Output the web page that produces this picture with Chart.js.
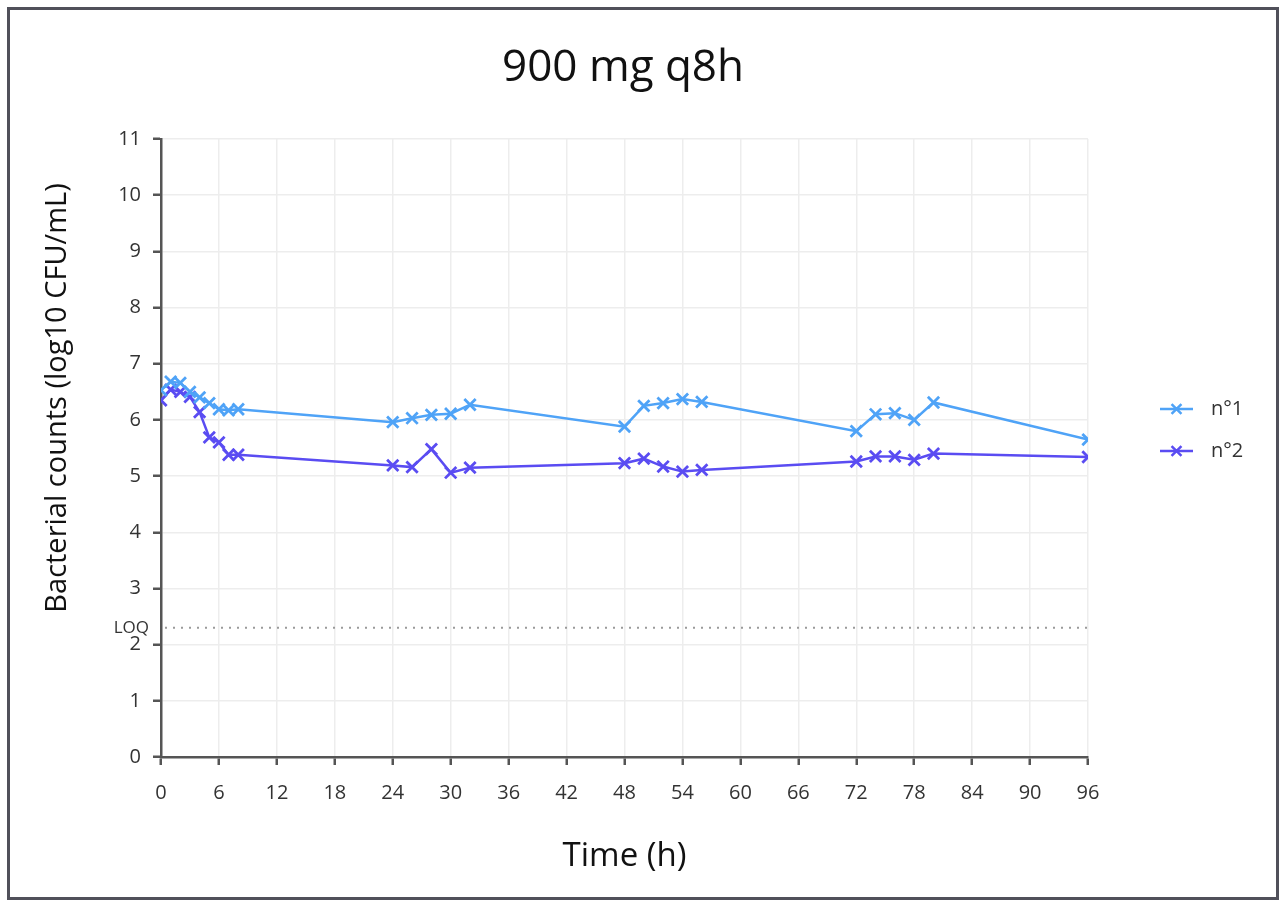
<!DOCTYPE html>
<html>
<head>
<meta charset="utf-8">
<script src="https://cdn.jsdelivr.net/npm/chart.js@4.4.1/dist/chart.umd.min.js"></script>
<style>
  html, body { margin: 0; padding: 0; background: #fff; }
  #wrap { width: 1281px; height: 900px; }
</style>
</head>
<body>
<div id="wrap"><canvas id="chart" width="1281" height="900"></canvas></div>
<script>
// Temps de prélèvement (h)
const times = [0, 1, 2, 3, 4, 5, 6, 7, 8, 24, 26, 28, 30, 32, 48, 50, 52, 54, 56, 72, 74, 76, 78, 80, 96];
// Comptages (log10 CFU/mL) par réplicat
const serie1 = [6.53, 6.68, 6.66, 6.50, 6.40, 6.30, 6.19, 6.17, 6.19, 5.96, 6.03, 6.09, 6.11, 6.27, 5.88, 6.25, 6.30, 6.37, 6.32, 5.80, 6.10, 6.12, 6.00, 6.31, 5.65];
const serie2 = [6.35, 6.54, 6.50, 6.41, 6.14, 5.69, 5.60, 5.38, 5.38, 5.19, 5.16, 5.48, 5.06, 5.15, 5.23, 5.31, 5.17, 5.08, 5.11, 5.26, 5.35, 5.35, 5.29, 5.40, 5.34];
const seriesLabels = ['n°1', 'n°2'];
const seriesColors = ['#4fa3f7', '#5a4cf2'];
const LOQ = 2.3;

const FONT = '"Open Sans", "Liberation Sans", sans-serif';

function toPoints(values) {
    return values.map((v, i) => ({ x: times[i], y: v }));
}

// Plugin pour le cadre, les titres, la ligne LOQ et la légende
const decorPlugin = {
    id: 'decor',
    beforeDatasetsDraw(chart) {
        const ctx = chart.ctx;
        const area = chart.chartArea;
        const yLoq = chart.scales.y.getPixelForValue(LOQ);
        ctx.save();
        ctx.strokeStyle = '#9a9a9a';
        ctx.lineWidth = 2;
        ctx.setLineDash([2, 6]);
        ctx.beginPath();
        ctx.moveTo(area.left + 4, yLoq);
        ctx.lineTo(area.right, yLoq);
        ctx.stroke();
        ctx.setLineDash([]);
        ctx.fillStyle = '#333';
        ctx.font = '17px ' + FONT;
        ctx.textAlign = 'right';
        ctx.textBaseline = 'middle';
        ctx.fillText('LOQ', area.left - 12, yLoq);
        ctx.restore();
    },
    afterDraw(chart) {
        const ctx = chart.ctx;
        ctx.save();
        // cadre
        ctx.strokeStyle = '#50505a';
        ctx.lineWidth = 3;
        ctx.strokeRect(8.5, 8.5, 1269, 890);
        // titre
        ctx.fillStyle = '#111';
        ctx.font = '44px ' + FONT;
        ctx.textAlign = 'center';
        ctx.textBaseline = 'middle';
        ctx.fillText('900 mg q8h', 623, 68);
        // titre de l'axe y (décalé vers le haut comme dans l'original)
        ctx.save();
        ctx.translate(58, 398);
        ctx.rotate(-Math.PI / 2);
        ctx.font = '29px ' + FONT;
        ctx.fillText('Bacterial counts (log10 CFU/mL)', 0, 0);
        ctx.restore();
        // légende
        const ys = [409, 451];
        chart.data.datasets.forEach((ds, i) => {
            ctx.strokeStyle = ds.borderColor;
            ctx.lineWidth = 2.5;
            ctx.beginPath();
            ctx.moveTo(1160, ys[i]);
            ctx.lineTo(1193, ys[i]);
            ctx.stroke();
            Chart.helpers.drawPoint(ctx, {
                pointStyle: 'crossRot', radius: 7, borderWidth: 2.5
            }, 1176.5, ys[i]);
            ctx.fillStyle = '#333';
            ctx.font = '20px ' + FONT;
            ctx.textAlign = 'left';
            ctx.textBaseline = 'middle';
            ctx.fillText(ds.label, 1211, ys[i]);
        });
        ctx.restore();
    }
};

const ctx = document.getElementById('chart').getContext('2d');
new Chart(ctx, {
    type: 'line',
    data: {
        datasets: [serie1, serie2].map((values, i) => ({
            label: seriesLabels[i],
            data: toPoints(values),
            borderColor: seriesColors[i],
            backgroundColor: seriesColors[i],
            pointBorderColor: seriesColors[i],
            borderWidth: 2.5,
            pointStyle: 'crossRot',
            pointRadius: 8,
            pointBorderWidth: 2.8,
            tension: 0,
            fill: false
        }))
    },
    options: {
        responsive: false,
        animation: false,
        layout: { padding: { left: 41, right: 193, top: 139, bottom: 24 } },
        plugins: {
            legend: { display: false },
            title: { display: false },
            tooltip: { enabled: false }
        },
        scales: {
            x: {
                type: 'linear',
                min: 0,
                max: 96,
                afterFit: scale => { scale.height = 119; },
                ticks: { stepSize: 6, color: '#333', padding: 16, font: { family: FONT, size: 20 } },
                grid: { color: '#ededed', lineWidth: 1.5, tickColor: '#555', tickLength: 8, tickWidth: 2.5 },
                border: { color: '#555', width: 2.5 },
                title: { display: true, text: 'Time (h)', color: '#111', font: { family: FONT, size: 33 }, padding: 0 }
            },
            y: {
                min: 0,
                max: 11,
                afterFit: scale => { scale.width = 120; },
                ticks: { stepSize: 1, color: '#333', padding: 12, font: { family: FONT, size: 20 } },
                grid: { color: '#ededed', lineWidth: 1.5, tickColor: '#555', tickLength: 8, tickWidth: 2.5 },
                border: { color: '#555', width: 2.5 },
                title: { display: false }
            }
        }
    },
    plugins: [decorPlugin]
});
</script>
</body>
</html>
